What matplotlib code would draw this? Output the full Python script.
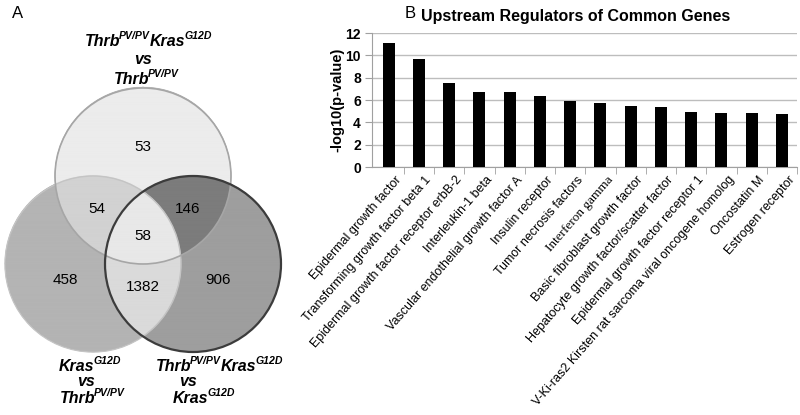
import numpy as np
import matplotlib
matplotlib.use("Agg")
import matplotlib.pyplot as plt
from matplotlib.patches import Circle
from matplotlib.transforms import IdentityTransform

plt.rcParams["font.family"] = ["Liberation Sans", "DejaVu Sans"]

# Venn counts
venn_counts = {"top": 53, "top_left": 54, "top_right": 146, "all": 58,
               "left": 458, "left_right": 1382, "right": 906}

# upstream regulators
regulators = [
    "Epidermal growth factor",
    "Transforming growth factor beta 1",
    "Epidermal growth factor receptor erbB-2",
    "Interleukin-1 beta",
    "Vascular endothelial growth factor A",
    "Insulin receptor",
    "Tumor necrosis factors",
    "Interferon gamma",
    "Basic fibroblast growth factor",
    "Hepatocyte growth factor/scatter factor",
    "Epidermal growth factor receptor 1",
    "V-Ki-ras2 Kirsten rat sarcoma viral oncogene homolog",
    "Oncostatin M",
    "Estrogen receptor",
]
neg_log_p = [11.1, 9.65, 7.55, 6.72, 6.68, 6.32, 5.95, 5.75, 5.5, 5.35, 4.9, 4.82, 4.8, 4.72]

W, H = 800, 415
fig = plt.figure(figsize=(W / 100, H / 100), dpi=100)
renderer = fig.canvas.get_renderer()

# ---------- panel A: Venn diagram (pixel coordinates) ----------
va = fig.add_axes([0, 0, 1, 1])
va.set_xlim(0, W)
va.set_ylim(H, 0)
va.axis("off")

r = 88
c_top = (143, 176)
c_left = (93, 264)
c_right = (193, 264)

xs = np.linspace(0, 300, 1200)
ys = np.linspace(80, 370, 1160)
X, Y = np.meshgrid(xs, ys)
in_t = (X - c_top[0]) ** 2 + (Y - c_top[1]) ** 2 <= r ** 2
in_l = (X - c_left[0]) ** 2 + (Y - c_left[1]) ** 2 <= r ** 2
in_r = (X - c_right[0]) ** 2 + (Y - c_right[1]) ** 2 <= r ** 2

img = np.zeros(X.shape + (4,))
def paint(mask, grey):
    img[mask] = [grey / 255, grey / 255, grey / 255, 1]

paint(in_t & ~in_l & ~in_r, 236)
paint(in_l & ~in_t & ~in_r, 180)
paint(in_r & ~in_t & ~in_l, 158)
paint(in_t & in_l & ~in_r, 210)
paint(in_t & in_r & ~in_l, 124)
paint(in_l & in_r & ~in_t, 218)
paint(in_t & in_l & in_r, 232)
va.imshow(img, extent=(0, 300, 370, 80), interpolation="bilinear", zorder=1)

va.add_patch(Circle(c_left, r, fill=False, ec="#c4c4c4", lw=1.0, zorder=2))
va.add_patch(Circle(c_top, r, fill=False, ec="#a6a6a6", lw=1.2, zorder=3))
va.add_patch(Circle(c_right, r, fill=False, ec="#3c3c3c", lw=1.6, zorder=4))

num_pos = {"top": (143, 147), "top_left": (97, 209), "top_right": (188, 209),
           "all": (143, 236), "left": (65, 280), "left_right": (143, 287),
           "right": (218, 280)}
for key, n in venn_counts.items():
    va.text(*num_pos[key], str(n), ha="center", va="center", fontsize=11, zorder=5)


def rich(xc, ybase, parts, size=11.5):
    """bold italic text with superscripts, centred at xc, baseline at ybase (image px)"""
    kw = dict(fontweight="bold", fontstyle="italic", va="baseline", ha="left",
              transform=IdentityTransform(), zorder=5)
    items = []
    total = 0
    for s, sup in parts:
        fs = size * 0.66 if sup else size
        t = fig.text(0, 0, s, fontsize=fs, **kw)
        w = t.get_window_extent(renderer).width - (1.0 if not sup else 0.3)
        items.append((t, sup, w))
        total += w
    x0 = xc - total / 2
    for t, sup, w in items:
        lift = size * 100 / 72 * 0.42 if sup else 0
        t.set_position((x0, H - ybase + lift))
        x0 += w


thrb = [("Thrb", False), ("PV/PV", True)]
kras = [("Kras", False), ("G12D", True)]
vs = [("vs", False)]
rich(148, 46, thrb + kras)
rich(143, 64, vs)
rich(146, 84, thrb)
rich(90, 371, kras)
rich(86, 386, vs)
rich(92, 403, thrb)
rich(219, 371, thrb + kras)
rich(188, 386, vs)
rich(204, 403, kras)

va.text(18, 13, "A", ha="center", va="center", fontsize=12)
va.text(410, 13, "B", ha="center", va="center", fontsize=12)

# ---------- panel B: bar chart ----------
ax = fig.add_axes([372 / W, 1 - 167 / H, 425 / W, 134 / H])
x = np.arange(len(regulators))
ax.bar(x, neg_log_p, width=0.39, color="black", zorder=3)
ax.set_xlim(-0.55, len(regulators) - 0.5)
ax.set_ylim(0, 12)
ax.set_yticks(range(0, 13, 2))
ax.yaxis.grid(True, color="#bdbdbd", lw=1, zorder=0)
ax.set_axisbelow(True)
for s in ["top", "right"]:
    ax.spines[s].set_visible(False)
for s in ["left", "bottom"]:
    ax.spines[s].set_color("#a0a0a0")
ax.tick_params(axis="y", length=5, color="#a0a0a0", labelsize=10, pad=3)
for t in ax.get_yticklabels():
    t.set_fontweight("bold")
ax.set_xticks(x + 0.2)
ax.set_xticks(np.arange(len(regulators)) + 0.5, minor=True)
ax.tick_params(axis="x", which="major", length=0, pad=5)
ax.tick_params(axis="x", which="minor", length=5, color="#a0a0a0")
ax.set_xticklabels(regulators, rotation=49, ha="right", rotation_mode="anchor",
                   fontsize=9)
for t in ax.get_xticklabels():
    if t.get_text() == "Interferon gamma":
        t.set_fontfamily("Liberation Serif")
        t.set_fontsize(9.5)
ax.set_ylabel("-log10(p-value)", fontsize=10.5, fontweight="bold", labelpad=1)
ax.set_title("Upstream Regulators of Common Genes", fontsize=11.5,
             fontweight="bold", pad=9, x=0.48)

fig.savefig("out.png", dpi=100)
